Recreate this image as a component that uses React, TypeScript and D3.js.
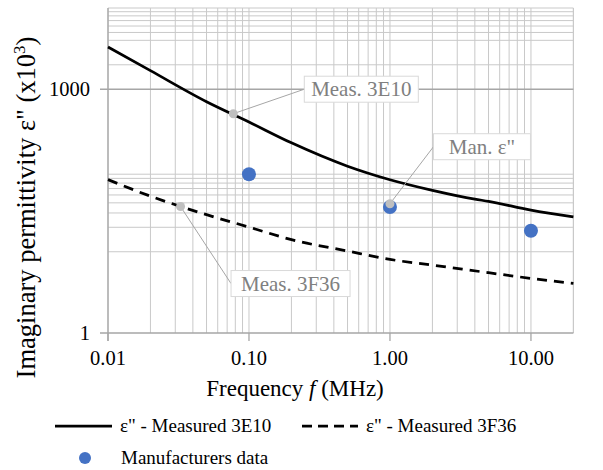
import React from "react";
import * as d3 from "d3";

// ---- data ----
const freq3E10 = [0.01, 0.02, 0.05, 0.1, 0.2, 0.5, 1, 2, 4, 5, 10, 20];
const eps3E10 = [3311, 1693, 702, 395, 219, 113, 77, 57, 44.4, 41.7, 32.5, 26.9];
const freq3F36 = [0.01, 0.02, 0.05, 0.1, 0.2, 0.5, 1, 2, 5, 10, 20];
const eps3F36 = [77.2, 48.3, 28.6, 20.1, 14.1, 10.2, 8.05, 6.85, 5.52, 4.7, 4.07];
const manFreq = [0.1, 1, 10];
const manEps = [90, 35.6, 18.1];
const xTickValues = [0.01, 0.1, 1, 10];
const xTickLabels = ["0.01", "0.10", "1.00", "10.00"];
const yTickValues = [1, 1000];
const yTickLabels = ["1", "1000"];
const yMinorGrid = [10, 20, 30, 40, 50, 60, 70, 80, 90, 2000, 4000, 5000, 6000, 7000, 8000, 9000, 10000];
const labelNames = ["Meas. 3E10", "Man. ε\"", "Meas. 3F36"];
const labelFreq = [0.0774, 1, 0.0327];
const labelEps = [500, 39, 36];
const legendNames = ["ε\" - Measured 3E10", "ε\" - Measured 3F36", "Manufacturers data"];

const FONT = "Liberation Serif";

export default function App() {
  const x = d3.scaleLog().domain([0.01, 20]).range([108, 573.4]);
  const y = d3.scaleLog().domain([1, 10000]).range([333, 8]);

  const xGrid: number[] = [];
  for (let e = -2; e <= 1; e++) {
    for (let k = 1; k <= 9; k++) {
      const v = k * Math.pow(10, e);
      if (v <= 20.0001) xGrid.push(v);
    }
  }
  xGrid.push(20);

  const line = d3
    .line<[number, number]>()
    .x((d) => x(d[0]))
    .y((d) => y(d[1]))
    .curve(d3.curveMonotoneX);

  const solidPath = line(freq3E10.map((f, i) => [f, eps3E10[i]]) as [number, number][]) || "";
  const dashPath = line(freq3F36.map((f, i) => [f, eps3F36[i]]) as [number, number][]) || "";

  const boxOffsets = [
    [71, -24.5, 114],
    [43.5, -57, 97],
    [50.5, 77, 119],
  ];
  const boxH = 26;

  return (
    <svg width={603} height={470} style={{ position: "absolute", left: 0, top: 0 }}>
      <rect x={0} y={0} width={603} height={470} fill="#fff" />
      {xGrid.map((v, i) => (
        <line key={"xg" + i} x1={x(v)} x2={x(v)} y1={y(10000)} y2={y(1)} stroke="#c9c9c9" strokeWidth={1} />
      ))}
      {yMinorGrid.map((v, i) => (
        <line key={"yg" + i} x1={x(0.01)} x2={x(20)} y1={y(v)} y2={y(v)} stroke="#c9c9c9" strokeWidth={1} />
      ))}
      <line x1={x(0.01) - 8} x2={x(20)} y1={y(1000)} y2={y(1000)} stroke="#a6a6a6" strokeWidth={1.3} />
      <line x1={x(0.01)} x2={x(0.01)} y1={y(10000)} y2={y(1) + 8} stroke="#a6a6a6" strokeWidth={1.3} />
      <line x1={x(0.01) - 8} x2={x(20)} y1={y(1)} y2={y(1)} stroke="#a6a6a6" strokeWidth={1.3} />
      {xTickValues.map((v, i) => (
        <g key={"xt" + i}>
          <line x1={x(v)} x2={x(v)} y1={y(1)} y2={y(1) + 8} stroke="#a6a6a6" strokeWidth={1.3} />
          <text x={x(v)} y={365} textAnchor="middle" fontSize={20.5} fill="#000" fontFamily={FONT}>
            {xTickLabels[i]}
          </text>
        </g>
      ))}
      {yTickValues.map((v, i) => (
        <text key={"yt" + i} x={90} y={y(v) + 7} textAnchor="end" fontSize={20.5} fill="#000" fontFamily={FONT}>
          {yTickLabels[i]}
        </text>
      ))}
      <path d={solidPath} fill="none" stroke="#000" strokeWidth={2.75} />
      <path d={dashPath} fill="none" stroke="#000" strokeWidth={2.75} strokeDasharray="10,7" />
      {manFreq.map((f, i) => (
        <circle key={"m" + i} cx={x(f)} cy={y(manEps[i])} r={7} fill="#4472c4" />
      ))}
      {labelNames.map((name, i) => {
        const px = x(labelFreq[i]);
        const py = y(labelEps[i]);
        const [dx, dy, bw] = boxOffsets[i];
        const bx = px + dx;
        const by = py + dy;
        return (
          <g key={"lab" + i}>
            <line x1={px} y1={py} x2={bx} y2={by} stroke="#a6a6a6" strokeWidth={1} />
            <circle cx={px} cy={py} r={4.5} fill="#bfbfbf" />
            <rect x={bx} y={by - boxH / 2} width={bw} height={boxH} fill="#fff" stroke="#d9d9d9" strokeWidth={1} />
            <text x={bx + bw / 2} y={by + 7} textAnchor="middle" fontSize={21} fill="#808080" fontFamily={FONT}>
              {name}
            </text>
          </g>
        );
      })}
      <text x={295} y={396} textAnchor="middle" fontSize={23} fill="#000" fontFamily={FONT}>
        Frequency <tspan fontStyle="italic">f</tspan> (MHz)
      </text>
      <text transform="translate(34.5,207.5) rotate(-90)" textAnchor="middle" fontSize={26.5} fill="#000" fontFamily={FONT}>
        Imaginary permittivity ε" (x10<tspan fontSize={17} dy={-10}>3</tspan>
        <tspan dy={10}>)</tspan>
      </text>
      <line x1={55} x2={112} y1={426} y2={426} stroke="#000" strokeWidth={2.75} />
      <text x={120} y={432} fontSize={19} fill="#000" fontFamily={FONT}>{legendNames[0]}</text>
      <line x1={302} x2={358} y1={426} y2={426} stroke="#000" strokeWidth={2.75} strokeDasharray="10,6" />
      <text x={366} y={432} fontSize={19} fill="#000" fontFamily={FONT}>{legendNames[1]}</text>
      <circle cx={85} cy={458} r={6} fill="#4472c4" />
      <text x={121} y={464} fontSize={19} fill="#000" fontFamily={FONT}>{legendNames[2]}</text>
    </svg>
  );
}
